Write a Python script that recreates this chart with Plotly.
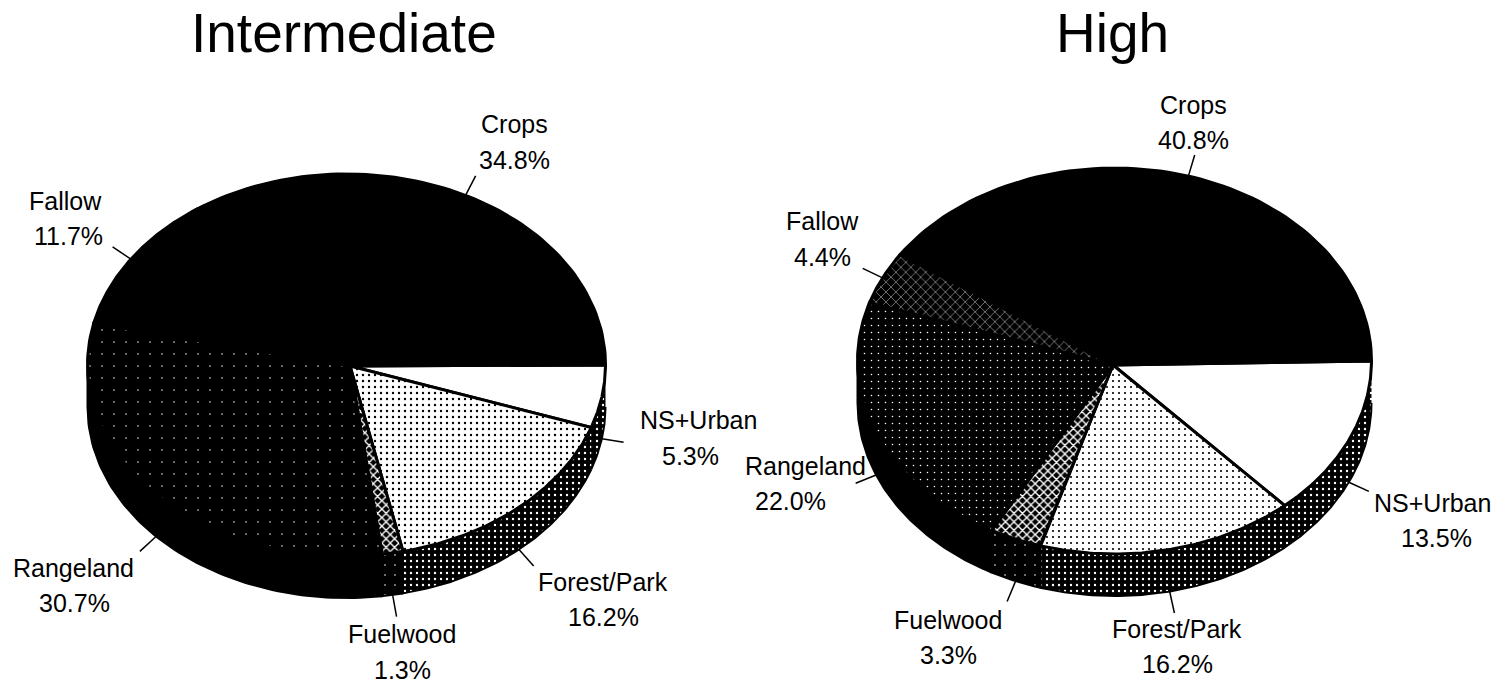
import numpy as np
import plotly.graph_objects as go

categories = ["NS+Urban", "Forest/Park", "Fuelwood", "Rangeland", "Fallow", "Crops"]
intermediate_values = [5.3, 16.2, 1.3, 30.7, 11.7, 34.8]
high_values = [13.5, 16.2, 3.3, 22.0, 4.4, 40.8]
titles = ["Intermediate", "High"]

# pie geometry in page pixels (the axes run 0-1501 / 687-0)
PIES = [
    dict(cx=346.5, cy=365, rx=259, ry=191, apex=(350, 366), depth=42),
    dict(cx=1114.5, cy=361, rx=257, ry=193, apex=(1113, 365), depth=42),
]

# label centres: name line, percent line
LABELS = [
    {"NS+Urban": ((698, 420), (690, 456)), "Forest/Park": ((603, 582), (603, 617)),
     "Fuelwood": ((402, 634), (402, 670)), "Rangeland": ((73, 568), (74, 603)),
     "Fallow": ((65, 201), (68, 236)), "Crops": ((514, 124), (514, 160))},
    {"NS+Urban": ((1432, 503), (1436, 538)), "Forest/Park": ((1177, 629), (1177, 664)),
     "Fuelwood": ((948, 620), (948, 655)), "Rangeland": ((805, 466), (790, 501)),
     "Fallow": ((822, 221), (822, 257)), "Crops": ((1193, 105), (1193, 140))},
]
TITLE_POS = [(344, 33), (1112, 33)]


def dots(fg, bg, size, solidity, shape="."):
    return dict(shape=shape, fgcolor=fg, bgcolor=bg, size=size, solidity=solidity,
                fillmode="replace")


TOP_STYLE = [
    {"NS+Urban": dots("white", "white", 6, 0.1),
     "Forest/Park": dots("black", "white", 6, 0.12),
     "Fuelwood": dots("white", "black", 6, 0.4, "x"),
     "Rangeland": dots("white", "black", 12, 0.012),
     "Fallow": dots("black", "black", 6, 0.1),
     "Crops": dots("black", "black", 6, 0.1)},
    {"NS+Urban": dots("white", "white", 6, 0.1),
     "Forest/Park": dots("black", "white", 6, 0.1),
     "Fuelwood": dots("white", "black", 6, 0.4, "x"),
     "Rangeland": dots("white", "black", 7, 0.04),
     "Fallow": dots("white", "black", 7, 0.12, "x"),
     "Crops": dots("black", "black", 6, 0.1)},
]
SIDE_STYLE = {"NS+Urban": dots("white", "black", 6, 0.12),
              "Forest/Park": dots("white", "black", 6, 0.12),
              "Fuelwood": dots("white", "black", 10, 0.02),
              "Rangeland": dots("black", "black", 6, 0.1),
              "Fallow": dots("black", "black", 6, 0.1),
              "Crops": dots("black", "black", 6, 0.1)}


def rim(pie, a0, a1, n=80):
    t = np.radians(np.linspace(a0, a1, n))
    return pie["cx"] + pie["rx"] * np.cos(t), pie["cy"] + pie["ry"] * np.sin(t)


def add_poly(fig, x, y, pattern, width):
    fig.add_trace(go.Scatter(x=list(x), y=list(y), mode="lines", fill="toself",
                             fillcolor="black", fillpattern=pattern,
                             line=dict(color="black", width=width),
                             hoverinfo="skip", showlegend=False))


fig = go.Figure()
annotations = []

for i, values in enumerate([intermediate_values, high_values]):
    pie = PIES[i]
    edges = np.cumsum([0] + values) / sum(values) * 360

    # side wall first, only the front half of the ellipse shows
    for j, cat in enumerate(categories):
        a0, a1 = edges[j], min(edges[j + 1], 180)
        if a0 >= 180:
            continue
        x, y = rim(pie, a0, a1)
        add_poly(fig, np.r_[x, x[::-1]], np.r_[y, y[::-1] + pie["depth"]], SIDE_STYLE[cat], 2)

    # top surface
    for j, cat in enumerate(categories):
        x, y = rim(pie, edges[j], edges[j + 1])
        ax, ay = pie["apex"]
        add_poly(fig, np.r_[ax, x, ax], np.r_[ay, y, ay], TOP_STYLE[i][cat], 3)

    # leader lines and labels
    for j, cat in enumerate(categories):
        mid = np.radians((edges[j] + edges[j + 1]) / 2)
        drop = pie["depth"] if np.sin(mid) > 0 else 0
        x0 = pie["cx"] + pie["rx"] * np.cos(mid)
        y0 = pie["cy"] + pie["ry"] * np.sin(mid) + drop
        x1 = pie["cx"] + (pie["rx"] + 22) * np.cos(mid)
        y1 = pie["cy"] + (pie["ry"] + 22) * np.sin(mid) + drop
        fig.add_trace(go.Scatter(x=[x0, x1], y=[y0, y1], mode="lines",
                                 line=dict(color="black", width=1.5),
                                 hoverinfo="skip", showlegend=False))
        name_xy, pct_xy = LABELS[i][cat]
        for (tx, ty), text in ((name_xy, cat), (pct_xy, f"{values[j]:.1f}%")):
            annotations.append(dict(x=tx, y=ty, text=text, showarrow=False,
                                    xanchor="center", yanchor="middle",
                                    font=dict(size=25, color="black")))

    annotations.append(dict(x=TITLE_POS[i][0], y=TITLE_POS[i][1], text=titles[i],
                            showarrow=False, xanchor="center", yanchor="middle",
                            font=dict(size=55, color="black")))

fig.update_layout(
    width=1501, height=687,
    margin=dict(l=0, r=0, t=0, b=0),
    paper_bgcolor="white", plot_bgcolor="white",
    font=dict(family="Liberation Sans"),
    xaxis=dict(range=[0, 1501], visible=False),
    yaxis=dict(range=[687, 0], visible=False),
    annotations=annotations,
)

fig.write_html("out.html", config={"displayModeBar": False},
               post_script="document.body.style.margin='0';")
